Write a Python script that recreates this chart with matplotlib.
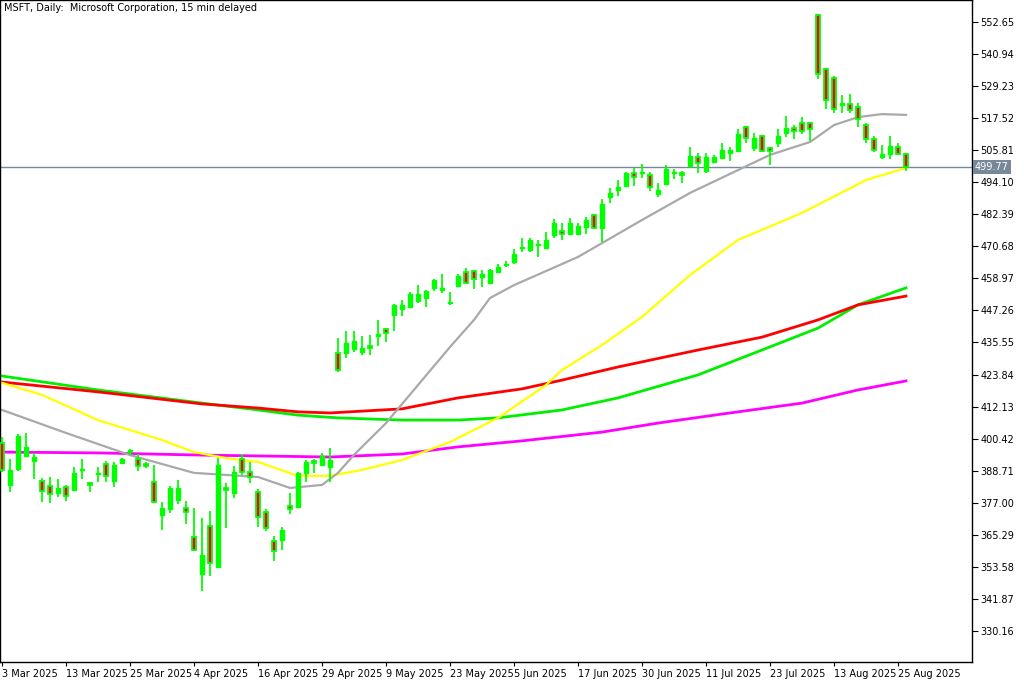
import matplotlib
matplotlib.use("Agg")
import matplotlib.pyplot as plt
import numpy as np

# OHLC values (daily MSFT)
opens = [398.8, 383.5, 389.3, 394.1, 392.3, 385.0, 383.1, 380.5, 382.7, 381.6,
         389.1, 384.2, 387.5, 391.2, 385.0, 391.5, 395.7, 393.0, 391.2, 384.6,
         372.5, 374.7, 378.0, 375.1, 364.5, 350.9, 368.5, 353.5, 382.4, 380.5,
         393.0, 388.2, 380.9, 373.6, 363.0, 363.4, 375.8, 375.4, 387.9, 392.3,
         390.8, 390.1, 431.7, 431.7, 433.2, 432.1, 434.3, 437.9, 440.5, 445.6,
         447.8, 448.5, 450.7, 451.8, 455.5, 454.9, 449.8, 456.2, 461.3, 461.7,
         459.5, 457.3, 461.3, 464.0, 464.9, 470.2, 469.3, 471.0, 470.1, 474.8,
         476.3, 475.2, 475.2, 477.7, 482.1, 477.4, 488.7, 491.3, 492.7, 497.5,
         497.3, 496.7, 489.8, 493.5, 497.3, 497.5, 500.0, 503.3, 498.2, 501.5,
         503.0, 504.8, 505.5, 514.3, 506.6, 511.0, 506.6, 508.4, 512.1, 513.9,
         515.7, 515.7, 555.2, 535.5, 532.2, 522.5, 522.7, 521.6, 515.0, 509.9,
         503.3, 504.4, 507.0, 504.4]
highs = [401.0, 393.0, 402.1, 402.5, 395.2, 386.0, 386.4, 385.7, 383.5, 390.1,
         393.0, 384.6, 390.1, 392.3, 391.9, 393.3, 396.6, 394.8, 391.9, 390.8,
         377.3, 383.1, 385.3, 377.6, 375.1, 371.4, 374.0, 393.3, 384.2, 390.4,
         394.8, 391.9, 382.0, 374.7, 364.8, 368.1, 380.5, 388.2, 392.6, 393.0,
         395.2, 397.0, 437.2, 439.7, 439.7, 437.9, 438.3, 443.8, 440.8, 449.6,
         451.1, 454.0, 456.5, 454.7, 458.7, 460.6, 454.0, 460.6, 462.8, 462.0,
         462.0, 462.4, 464.2, 465.3, 469.7, 473.7, 473.7, 473.0, 475.9, 480.7,
         479.2, 481.0, 479.2, 481.4, 482.5, 488.0, 492.0, 494.9, 497.8, 499.3,
         500.8, 497.8, 493.8, 500.4, 498.9, 498.2, 507.0, 504.8, 504.8, 504.0,
         508.4, 507.0, 513.5, 514.7, 512.1, 511.4, 507.0, 513.5, 518.3, 515.0,
         517.9, 516.1, 555.6, 535.8, 532.9, 526.0, 526.3, 523.1, 515.7, 511.0,
         507.7, 511.0, 508.4, 504.8]
lows = [388.2, 380.9, 388.6, 393.7, 385.7, 377.3, 376.9, 379.1, 377.6, 381.3,
        385.7, 380.9, 384.6, 384.6, 382.7, 391.2, 394.4, 388.6, 389.7, 376.9,
        367.0, 373.2, 376.5, 369.2, 359.4, 344.7, 350.2, 353.2, 367.8, 378.7,
        387.1, 384.2, 368.1, 366.7, 355.7, 359.7, 372.9, 375.4, 384.6, 387.9,
        390.4, 384.6, 424.8, 429.9, 432.1, 431.0, 431.0, 434.3, 435.7, 439.7,
        445.2, 448.2, 450.0, 448.5, 454.4, 453.6, 449.3, 455.8, 457.3, 455.1,
        455.8, 456.9, 460.9, 463.1, 464.2, 468.6, 468.6, 466.8, 469.7, 473.7,
        473.0, 474.8, 474.8, 475.2, 477.0, 472.3, 486.5, 489.1, 492.7, 492.7,
        495.7, 490.9, 488.7, 493.1, 495.3, 493.8, 499.7, 497.5, 497.5, 501.1,
        502.6, 501.9, 505.5, 508.4, 505.5, 505.2, 500.4, 507.0, 510.6, 509.9,
        511.7, 509.2, 531.8, 520.9, 519.4, 519.4, 519.4, 514.3, 508.4, 505.2,
        502.6, 502.6, 504.0, 498.2]
closes = [389.0, 389.0, 401.4, 397.4, 393.7, 381.3, 380.2, 382.4, 379.4, 387.9,
          389.3, 383.5, 387.9, 386.8, 390.8, 393.0, 395.9, 390.4, 390.4, 377.3,
          375.1, 382.4, 382.4, 373.6, 359.7, 357.9, 355.0, 390.8, 381.6, 388.2,
          388.2, 386.4, 371.8, 367.8, 359.4, 367.0, 374.7, 387.9, 391.9, 391.5,
          394.1, 392.6, 425.5, 435.4, 436.1, 433.5, 433.5, 438.7, 439.0, 449.3,
          449.3, 453.3, 453.3, 454.4, 458.4, 455.1, 450.0, 459.8, 457.3, 458.7,
          460.6, 462.0, 463.1, 464.2, 467.9, 470.4, 473.0, 471.2, 473.0, 479.2,
          475.2, 479.2, 478.1, 480.3, 477.4, 486.1, 490.2, 492.4, 497.5, 496.0,
          497.5, 492.4, 491.3, 498.9, 497.5, 496.7, 503.7, 501.1, 503.3, 503.3,
          505.9, 505.9, 511.7, 510.3, 510.3, 505.5, 505.5, 511.0, 513.9, 512.8,
          512.8, 513.5, 533.7, 524.2, 520.9, 522.7, 520.5, 517.2, 509.9, 505.9,
          504.4, 507.3, 504.4, 499.77]

# moving averages, read at key bars
gray_idx = [0, 8, 16, 24, 32, 36, 40, 42, 44, 48, 52, 56, 59, 61, 64, 72, 80, 86, 96,
            101, 104, 107, 110, 113]
gray_val = [410.9, 402.5, 394.4, 387.9, 386.4, 382.4, 383.5, 387.9, 394.5, 406.1, 420.0,
            433.9, 443.8, 451.8, 456.5, 466.8, 480.3, 490.2, 504.1, 508.8, 515.0, 517.9,
            519.0, 518.7]
yellow_idx = [0, 5, 12, 20, 24, 28, 32, 37, 41, 45, 50, 56, 62, 68, 70, 75, 80, 86, 92,
              100, 108, 113]
yellow_val = [420.8, 416.4, 407.2, 399.9, 395.5, 393.3, 391.9, 386.8, 386.8, 389.0, 392.6,
              399.2, 408.0, 420.0, 425.5, 434.6, 444.9, 460.2, 473.0, 482.9, 494.9, 499.3]
green_idx = [0, 12, 25, 32, 37, 42, 50, 57, 62, 70, 77, 87, 95, 102, 107, 113]
green_val = [423.3, 418.2, 413.4, 410.9, 409.0, 408.0, 407.2, 407.2, 408.0, 410.9, 415.3,
             423.7, 432.8, 440.8, 449.3, 455.5]
red_idx = [0, 12, 25, 32, 37, 41, 50, 57, 65, 70, 77, 87, 95, 102, 107, 113]
red_val = [421.1, 417.5, 413.1, 411.6, 410.2, 409.8, 411.3, 415.3, 418.6, 421.8, 426.6,
           432.8, 437.5, 443.8, 449.3, 452.5]
magenta_idx = [0, 12, 25, 32, 41, 50, 57, 65, 75, 82, 90, 100, 107, 113]
magenta_val = [395.5, 395.2, 394.4, 394.1, 393.7, 394.8, 397.4, 399.6, 402.8, 406.1,
               409.4, 413.4, 418.2, 421.5]

price_ticks = [552.65, 540.94, 529.23, 517.52, 505.81, 494.10, 482.39, 470.68, 458.97,
               447.26, 435.55, 423.84, 412.13, 400.42, 388.71, 377.00, 365.29, 353.58,
               341.87, 330.16]
date_labels = ["3 Mar 2025", "13 Mar 2025", "25 Mar 2025", "4 Apr 2025", "16 Apr 2025",
               "29 Apr 2025", "9 May 2025", "23 May 2025", "5 Jun 2025", "17 Jun 2025",
               "30 Jun 2025", "11 Jul 2025", "23 Jul 2025", "13 Aug 2025", "25 Aug 2025"]
last_price = 499.77

fig = plt.figure(figsize=(10.24, 6.83), dpi=100)
ax = fig.add_axes([0.0, 21 / 683, 972 / 1024, 662 / 683])
ax.set_facecolor("white")

o = np.array(opens); h = np.array(highs); l = np.array(lows); c = np.array(closes)
x = np.arange(len(o))
up = c >= o
GREEN = "#00FF00"

# wicks
ax.vlines(x, l, h, colors=GREEN, linewidth=1.3, zorder=3)
# bodies
body_h = np.abs(c - o)
body_h = np.where(body_h < 0.4, 0.4, body_h)
bottoms = np.minimum(o, c)
ax.bar(x[up], body_h[up], bottom=bottoms[up], width=0.62, color=GREEN,
       edgecolor=GREEN, linewidth=1.0, zorder=4)
ax.bar(x[~up], body_h[~up], bottom=bottoms[~up], width=0.62, color="#FF0000",
       edgecolor=GREEN, linewidth=1.3, zorder=4)

# moving averages
ax.plot(magenta_idx, magenta_val, color="#FF00FF", linewidth=2, zorder=2)
ax.plot(green_idx, green_val, color="#00EE00", linewidth=2, zorder=2)
ax.plot(red_idx, red_val, color="#FF0000", linewidth=2, zorder=2)
ax.plot(yellow_idx, yellow_val, color="#FFFF00", linewidth=1.6, zorder=2)
ax.plot(gray_idx, gray_val, color="#A9A9A9", linewidth=1.6, zorder=2)

# last price line
ax.axhline(last_price, color="#778899", linewidth=1, zorder=1)

ax.set_xlim(-0.25, 121.25)
ax.set_ylim(318.8, 560.69)

ax.yaxis.tick_right()
ax.set_yticks(price_ticks)
ax.set_yticklabels([f"{p:.2f}" for p in price_ticks], fontsize=7)
ax.tick_params(axis="y", length=4, pad=2, direction="out")
ax.set_xticks(np.arange(0, 8 * len(date_labels), 8))
ax.set_xticklabels(date_labels, fontsize=7, ha="left")
ax.tick_params(axis="x", length=3, pad=2)
for s in ax.spines.values():
    s.set_color("black")
    s.set_linewidth(1)

ax.text(1.003, last_price, f"{last_price:.2f}", transform=ax.get_yaxis_transform(),
        fontsize=7, color="white", va="center", ha="left",
        bbox=dict(boxstyle="square,pad=0.2", facecolor="#778899", edgecolor="none"))

ax.text(0.004, 0.995, "MSFT, Daily:  Microsoft Corporation, 15 min delayed",
        transform=ax.transAxes, fontsize=7, va="top", ha="left", color="black")

fig.savefig("out.png", dpi=100)
